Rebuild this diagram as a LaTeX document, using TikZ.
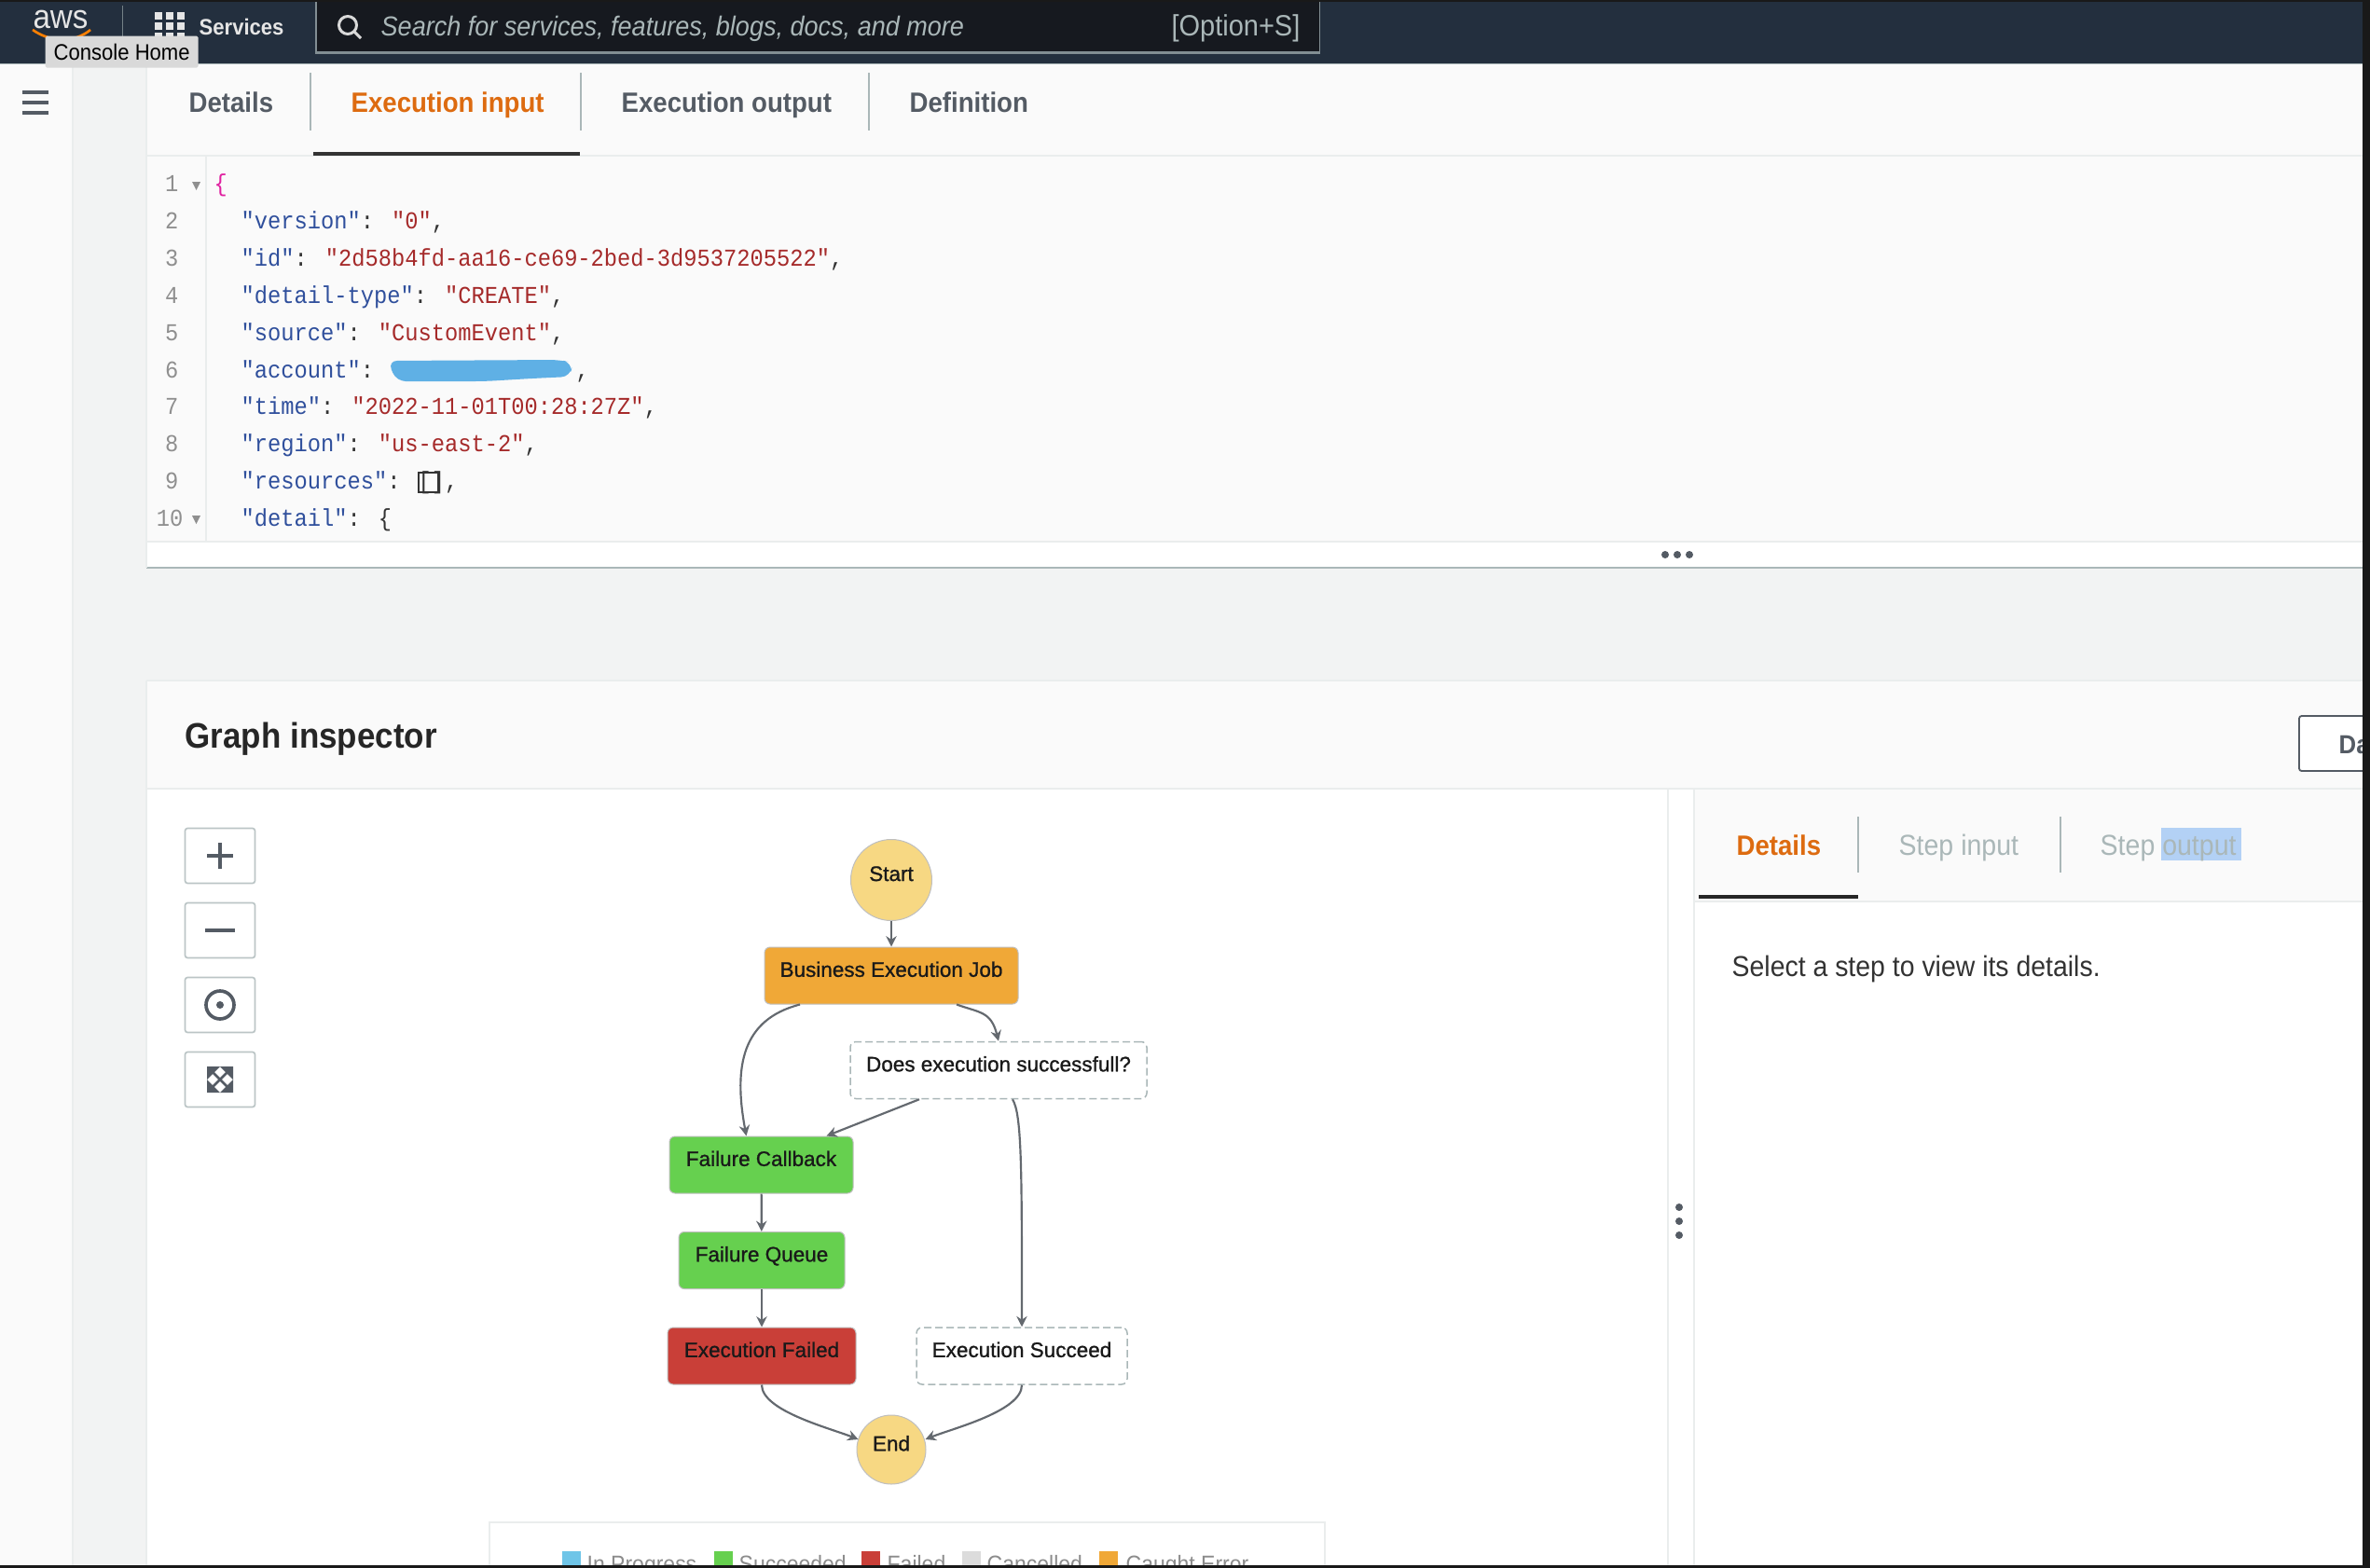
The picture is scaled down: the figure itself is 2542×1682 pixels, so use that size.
\documentclass[tikz,border=0pt]{standalone}
\usepackage{fontspec}
\setmainfont[FakeStretch=0.92]{Liberation Sans}
\newfontfamily\codef[FakeStretch=0.913]{Liberation Mono}
\newfontfamily\flowf[FakeBold=1]{Liberation Sans}
\usetikzlibrary{arrows.meta,calc}
\newcommand\pxf[1]{\fontsize{\fpeval{0.3*#1}pt}{\fpeval{0.36*#1}pt}\selectfont}
\definecolor{navbar}{HTML}{232F3E}
\definecolor{searchbg}{HTML}{16191F}
\definecolor{graybg}{HTML}{F2F3F3}
\definecolor{paleb}{HTML}{FAFAFA}
\definecolor{rulec}{HTML}{EAEDED}
\definecolor{sepc}{HTML}{AAB7B8}
\definecolor{tabtxt}{HTML}{545B64}
\definecolor{activet}{HTML}{DD6B10}
\definecolor{keyc}{HTML}{2F4F9C}
\definecolor{strc}{HTML}{A52A2A}
\definecolor{pinkc}{HTML}{E020A0}
\definecolor{numc}{HTML}{8F8F8F}
\definecolor{startc}{HTML}{F7D883}
\definecolor{orangec}{HTML}{F0A837}
\definecolor{greenc}{HTML}{66D04F}
\definecolor{redc}{HTML}{C93F38}
\definecolor{bluec}{HTML}{6FC5E8}
\definecolor{greyc}{HTML}{DCDCDC}
\definecolor{smear}{HTML}{5FB0E5}
\definecolor{edgec}{HTML}{64696F}
\definecolor{selc}{HTML}{B3D1F5}
\newcommand\K[1]{\textcolor{keyc}{#1}}
\newcommand\V[1]{\textcolor{strc}{#1}}
\tikzset{
 x=0.3pt,y=-0.3pt,
 tabtext/.style={inner sep=0pt,anchor=base west,font=\bfseries\pxf{30},text=tabtxt},
 tabsep/.style={draw=sepc,line width=0.45pt},
 code/.style={inner sep=0pt,anchor=base west,font=\codef\pxf{26},text=black!80},
 lnum/.style={inner sep=0pt,anchor=base east,font=\codef\pxf{26},text=numc},
 fold/.style={fill=numc},
 flow/.style={rounded corners=1.8pt,inner sep=0pt,font=\flowf\pxf{22.5},text=black!90,minimum height=61*0.3pt,draw=black!25,line width=0.3pt},
 dashbox/.style={flow,fill=white,draw=sepc,dashed,line width=0.45pt,dash pattern=on 2.4pt off 1.2pt},
 term/.style={circle,inner sep=0pt,fill=startc,draw=black!25,line width=0.3pt,font=\flowf\pxf{22.5},text=black!90},
 conn/.style={draw=edgec,line width=0.65pt,-{Stealth[length=3.4pt,width=3.4pt]}},
 zoombtn/.style={draw=sepc!80!white,fill=white,line width=0.5pt,rounded corners=0.8pt,minimum width=75*0.3pt,minimum height=59*0.3pt,inner sep=0pt},
 icon/.style={draw=tabtxt,line width=1.1pt},
 legsw/.style={inner sep=0pt,minimum width=20*0.3pt,minimum height=30*0.3pt,anchor=north west},
 legtxt/.style={inner sep=0pt,anchor=base west,font=\pxf{25},text=black!45},
}
\begin{document}
\begin{tikzpicture}
\useasboundingbox (0,0) rectangle (2542,1682);
% page backgrounds
\fill[white] (0,0) rectangle (2542,1682);
\fill[paleb] (0,68) rectangle (78,1682);
\fill[graybg] (78,68) rectangle (157,1682);
\draw[draw=rulec,line width=0.4pt] (78,68) -- (78,1682);
\fill[paleb] (157,68) rectangle (2542,166);
\fill[paleb] (157,166) rectangle (2542,581);
\fill[white] (157,581) rectangle (2542,608);
\fill[graybg] (157,610) rectangle (2542,729);
\fill[white] (157,729) rectangle (2542,1682);
\fill[paleb] (157,730) rectangle (2542,846);
\draw[draw=rulec,line width=0.5pt] (157,846) -- (2542,846);
\draw[draw=rulec,line width=0.5pt] (157,730) -- (2542,730);
\draw[draw=sepc,line width=0.6pt] (157,609) -- (2542,609);
\draw[draw=rulec,line width=0.5pt] (157,68) -- (157,609);
\draw[draw=rulec,line width=0.5pt] (157,730) -- (157,1682);
\draw[draw=rulec,line width=0.4pt] (157,167) -- (2542,167);
\draw[draw=rulec,line width=0.4pt] (221,167) -- (221,581);
\draw[draw=rulec,line width=0.4pt] (157,581) -- (2542,581);
% top bar
\fill[navbar] (0,0) rectangle (2542,68);
\draw[draw=sepc,line width=0.5pt] (0,68.5) -- (2542,68.5);
\fill[sepc!70!navbar] (338,2) rectangle (1416,58);
\fill[searchbg] (339.5,2) rectangle (1414.5,55);
\draw[draw=sepc!60!navbar,line width=0.3pt] (131,6) -- (131,60);
\node[inner sep=0pt,anchor=base,font=\pxf{36},text=white!90!black] (awslogo) at (65,30) {aws};
\draw[draw=orange,line width=0.8pt] (35,32) .. controls (55,46) and (80,46) .. (97,32);
\foreach \ix in {0,1,2} \foreach \iy in {0,1,2}
  \fill[white!90!black] ({166+\ix*12},{13+\iy*11}) rectangle ++(8,8);
\node[inner sep=0pt,anchor=base west,font=\bfseries\pxf{24},text=white!90!black] (services) at (213,37) {Services};
\draw[draw=white!85!black,line width=0.9pt] (373,27) circle[radius=9.5];
\draw[draw=white!85!black,line width=0.9pt] (380,34) -- (387,41);
\node[inner sep=0pt,anchor=base west,font=\itshape\pxf{29.4},text=sepc] (searchtxt) at (408,38) {Search for services, features, blogs, docs, and more};
\node[inner sep=0pt,anchor=base east,font=\pxf{31.5},text=sepc] (optkey) at (1395,38) {[Option+S]};
\node[inner sep=0pt,fill=black!15,minimum width=164*0.3pt,minimum height=34*0.3pt,anchor=north west,rounded corners=0.5pt] (tooltip) at (48,38) {};
\node[inner sep=0pt,font=\pxf{24},text=black] (tooltiptxt) at (tooltip.center) {Console Home};
% hamburger
\foreach \yy in {99,110,121} \draw[draw=tabtxt,line width=1.1pt] (24,\yy) -- (52,\yy);
% tabs
\node[tabtext] (tabA) at (202,120) {Details};
\node[tabtext,text=activet] (tabB) at (376,120) {Execution input};
\node[tabtext] (tabC) at (666,120) {Execution output};
\node[tabtext] (tabD) at (975,120) {Definition};
\draw[tabsep] (333,78) -- (333,140);
\draw[tabsep] (623,78) -- (623,140);
\draw[tabsep] (932,78) -- (932,140);
\fill[black!80] (336,163) rectangle (622,167);
% code
\node[lnum] (n1) at (192,205) {1};
\node[lnum] (n2) at (192,245) {2};
\node[lnum] (n3) at (192,285) {3};
\node[lnum] (n4) at (192,325) {4};
\node[lnum] (n5) at (192,365) {5};
\node[lnum] (n6) at (192,405) {6};
\node[lnum] (n7) at (192,444) {7};
\node[lnum] (n8) at (192,484) {8};
\node[lnum] (n9) at (192,524) {9};
\node[lnum] (n10) at (197,564) {10};
\fill[fold] (206,195) -- (215,195) -- (210.5,204) -- cycle;
\fill[fold] (206,553) -- (215,553) -- (210.5,562) -- cycle;
\node[code,text=pinkc] (c1) at (229,205) {\{};
\node[code] (c2) at (258,245) {\K{"version"}: \V{"0"},};
\node[code] (c3) at (258,285) {\K{"id"}: \V{"2d58b4fd-aa16-ce69-2bed-3d9537205522"},};
\node[code] (c4) at (258,325) {\K{"detail-type"}: \V{"CREATE"},};
\node[code] (c5) at (258,365) {\K{"source"}: \V{"CustomEvent"},};
\node[code] (c6) at (258,405) {\K{"account"}:};
\node[code] (c6b) at (617,405) {,};
\fill[smear,rounded corners=3pt] (416,387) -- (600,386) -- (614,389) -- (612,404) -- (570,406) -- (520,409) -- (425,409) -- cycle;
\node[code] (c7) at (258,444) {\K{"time"}: \V{"2022-11-01T00:28:27Z"},};
\node[code] (c8) at (258,484) {\K{"region"}: \V{"us-east-2"},};
\node[code] (c9) at (258,524) {\K{"resources"}: [],};
\draw[draw=black!80,line width=0.4pt] (449,507) rectangle (470,528);
\node[code] (c10) at (258,564) {\K{"detail"}: \{};
% resize dots
\foreach \xx in {1786,1799,1812} \fill[tabtxt] (\xx,595) circle[radius=4];
% graph header
\node[inner sep=0pt,anchor=base west,font=\bfseries\pxf{38},text=black!85] (gi) at (198,802) {Graph inspector};
\draw[draw=tabtxt,fill=white,line width=0.55pt,rounded corners=0.8pt] (2466,768) rectangle (2560,827);
\node[inner sep=0pt,anchor=base west,font=\bfseries\pxf{28},text=tabtxt] (datab) at (2508,808) {Da};
% zoom buttons
\node[zoombtn] (bplus) at (236,918) {};
\node[zoombtn] (bminus) at (236,998) {};
\node[zoombtn] (bcenter) at (236,1078) {};
\node[zoombtn] (bfit) at (236,1158) {};
\draw[icon] ($(bplus.center)+(-14,0)$) -- ($(bplus.center)+(14,0)$);
\draw[icon] ($(bplus.center)+(0,-14)$) -- ($(bplus.center)+(0,14)$);
\draw[icon] ($(bminus.center)+(-16,0)$) -- ($(bminus.center)+(16,0)$);
\draw[icon] (bcenter.center) circle[radius=15];
\fill[tabtxt] (bcenter.center) circle[radius=4];
\foreach \sx/\sy in {-1/-1,1/-1,-1/1,1/1}{
  \fill[tabtxt] ($(bfit.center)+({14*\sx},{14*\sy})$) -- ++({-14*\sx},0) -- ++({14*\sx},{-14*\sy}) -- cycle;
  \draw[draw=tabtxt,line width=0.8pt] (bfit.center) -- ($(bfit.center)+({12*\sx},{12*\sy})$);
}
% right panel
\draw[draw=rulec,line width=0.5pt] (1789,846) -- (1789,1682);
\fill[paleb] (1817,847) rectangle (2542,967);
\draw[draw=rulec,line width=0.5pt] (1817,846) -- (1817,1682);
\draw[draw=rulec,line width=0.5pt] (1817,967) -- (2542,967);
\foreach \yy in {1295,1310,1325} \fill[tabtxt] (1801,\yy) circle[radius=4];
\fill[selc] (2318,888) rectangle (2404,923);
\node[tabtext,text=activet] (dtab) at (1862,917) {Details};
\node[tabtext,font=\pxf{31},text=sepc] (stepin) at (2036,917) {Step input};
\node[tabtext,font=\pxf{31},text=sepc] (stepout) at (2252,917) {Step output};
\draw[tabsep] (1993,876) -- (1993,936);
\draw[tabsep] (2210,876) -- (2210,936);
\fill[black!85] (1822,960) rectangle (1993,964);
\node[inner sep=0pt,anchor=base west,font=\pxf{30.9},text=black!80] (seltxt) at (1857,1047) {Select a step to view its details.};
% flow nodes
\node[term,minimum size=87*0.3pt] (start) at (956,944) {\raisebox{4.1pt}{Start}};
\node[flow,fill=orangec,minimum width=272*0.3pt] (biz) at (956,1046.5) {\raisebox{4.1pt}{Business Execution Job}};
\node[dashbox,minimum width=318*0.3pt] (does) at (1071,1148) {\raisebox{4.1pt}{Does execution successfull?}};
\node[flow,fill=greenc,minimum width=197*0.3pt] (fcb) at (816.5,1249.5) {\raisebox{4.1pt}{Failure Callback}};
\node[flow,fill=greenc,minimum width=178*0.3pt] (fq) at (817,1352) {\raisebox{4.1pt}{Failure Queue}};
\node[flow,fill=redc,minimum width=202*0.3pt] (ef) at (817,1454.5) {\raisebox{4.1pt}{Execution Failed}};
\node[dashbox,minimum width=226*0.3pt] (es) at (1096,1454.5) {\raisebox{4.1pt}{Execution Succeed}};
\node[term,minimum size=74*0.3pt] (stop) at (956,1555) {\raisebox{4.1pt}{End}};
% connectors
\draw[conn] (start) -- (biz);
\draw[conn] ($(biz.south)+(70,0)$) .. controls +(25,9) and +(-8,-32) .. (does.north);
\draw[conn] ($(biz.south)+(-98,0)$) .. controls +(-62,16) and +(-14,-75) .. ($(fcb.north)+(-16,0)$);
\draw[conn] ($(does.south)+(-85,0)$) -- ($(fcb.north)+(70,0)$);
\draw[conn] ($(does.south)+(15,0)$) .. controls +(10,16) and +(0,-170) .. (es.north);
\draw[conn] (fcb) -- (fq);
\draw[conn] (fq) -- (ef);
\draw[conn] (ef.south) .. controls +(0,28) and +(-30,-12) .. ($(stop.west)+(2,-11)$);
\draw[conn] (es.south) .. controls +(0,28) and +(30,-12) .. ($(stop.east)+(-1,-11)$);
% legend
\draw[draw=rulec,fill=white,line width=0.6pt] (525,1690) -- (525,1633) -- (1421,1633) -- (1421,1690);
\node[legsw,fill=bluec] (s1) at (602,1663) {};
\node[legtxt] (l1) at (629,1686) {In Progress};
\node[legsw,fill=greenc] (s2) at (765,1663) {};
\node[legtxt] (l2) at (792,1686) {Succeeded};
\node[legsw,fill=redc] (s3) at (923,1663) {};
\node[legtxt] (l3) at (951,1686) {Failed};
\node[legsw,fill=greyc] (s4) at (1031,1663) {};
\node[legtxt] (l4) at (1058,1686) {Cancelled};
\node[legsw,fill=orangec] (s5) at (1178,1663) {};
\node[legtxt] (l5) at (1207,1686) {Caught Error};
% screenshot edge
\fill[black!90] (0,0) rectangle (2542,2);
\fill[black!90] (2534,0) rectangle (2542,1682);
\fill[black!90] (0,1679) rectangle (2542,1682);
\end{tikzpicture}
\end{document}
